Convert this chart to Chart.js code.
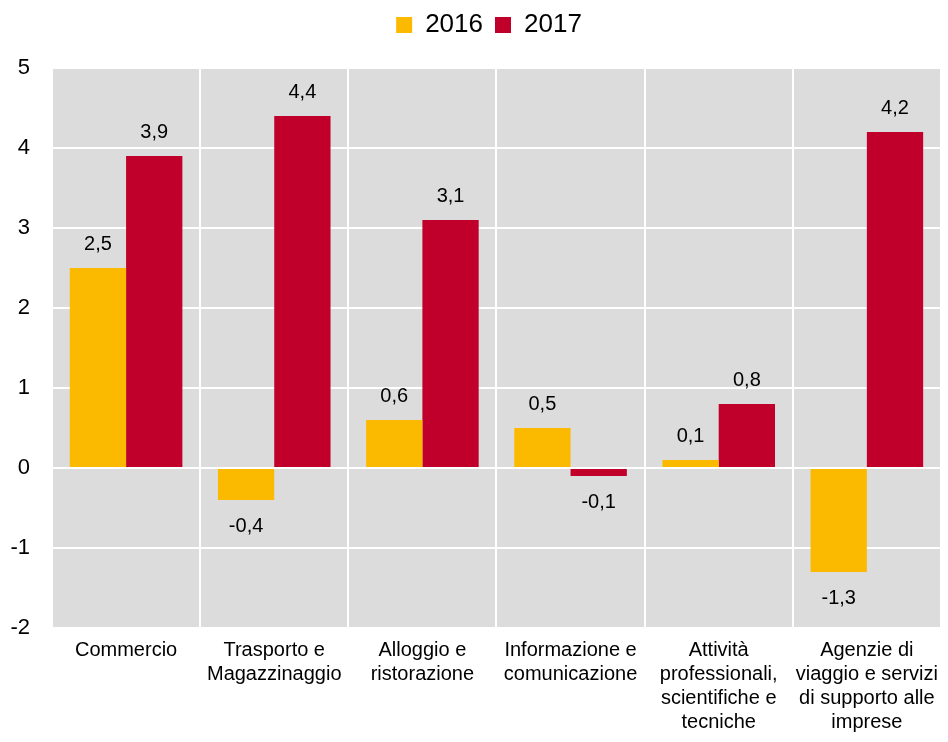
<!DOCTYPE html>
<html>
<head>
<meta charset="utf-8">
<script src="https://cdn.jsdelivr.net/npm/chart.js@4"></script>
<style>
  html, body { margin: 0; padding: 0; background: #fff; }
  #wrap { width: 948px; height: 742px; }
</style>
</head>
<body>
<div id="wrap"><canvas id="chart"></canvas></div>
<script>
const categories = [
    "Commercio",
    ["Trasporto e", "Magazzinaggio"],
    ["Alloggio e", "ristorazione"],
    ["Informazione e", "comunicazione"],
    ["Attività", "professionali,", "scientifiche e", "tecniche"],
    ["Agenzie di", "viaggio e servizi", "di supporto alle", "imprese"]
]
const values_2016 = [2.5, -0.4, 0.6, 0.5, 0.1, -1.3]
const values_2017 = [3.9, 4.4, 3.1, -0.1, 0.8, 4.2]
const y_ticks = [-2, -1, 0, 1, 2, 3, 4, 5]

const font_family = "'Liberation Sans Narrow', 'Arial Narrow', 'Liberation Sans', sans-serif"

// grey plot background
const bg_plugin = {
    id: "bg",
    beforeDraw(chart) {
        const { ctx, chartArea } = chart
        ctx.save()
        ctx.fillStyle = "#dcdcdc"
        ctx.fillRect(chartArea.left, chartArea.top, chartArea.right - chartArea.left, chartArea.bottom - chartArea.top)
        ctx.restore()
    }
}

// extra room under the legend, and nudge it right a bit
const legend_plugin = {
    id: "legendSpace",
    beforeInit(chart) {
        const orig = chart.legend.fit
        chart.legend.fit = function () {
            orig.bind(chart.legend)()
            this.height += 20
        }
    },
    afterLayout(chart) {
        chart.legend.left += 30
    }
}

// value labels above / below each bar
const label_plugin = {
    id: "labels",
    afterDatasetsDraw(chart) {
        const ctx = chart.ctx
        ctx.save()
        ctx.font = "20px " + font_family
        ctx.fillStyle = "#000"
        ctx.textAlign = "center"
        ctx.textBaseline = "middle"
        chart.data.datasets.forEach((ds, i) => {
            chart.getDatasetMeta(i).data.forEach((bar, j) => {
                const v = ds.data[j]
                const txt = v.toFixed(1).replace(".", ",")
                const y = v >= 0 ? bar.y - 24 : bar.y + 26
                ctx.fillText(txt, bar.x, y)
            })
        })
        ctx.restore()
    }
}

const ctx = document.getElementById("chart")

new Chart(ctx, {
    type: "bar",
    data: {
        labels: categories,
        datasets: [{
            label: "2016",
            data: values_2016,
            backgroundColor: "#fbba00"
        }, {
            label: "2017",
            data: values_2017,
            backgroundColor: "#c0002a"
        }]
    },
    options: {
        responsive: true,
        maintainAspectRatio: false,
        animation: false,
        layout: { padding: 0 },
        datasets: {
            bar: { categoryPercentage: 0.76, barPercentage: 1.0 }
        },
        plugins: {
            tooltip: { enabled: false },
            legend: {
                position: "top",
                labels: {
                    color: "#000",
                    font: { family: font_family, size: 26 },
                    boxWidth: 16,
                    boxHeight: 16,
                    padding: 12
                }
            }
        },
        scales: {
            x: {
                grid: { color: "#fff", lineWidth: 2, drawTicks: false, offset: true },
                border: { display: false },
                ticks: {
                    color: "#000",
                    font: { family: font_family, size: 20, lineHeight: 1.2 },
                    padding: 10,
                    maxRotation: 0,
                    autoSkip: false
                },
                afterFit(scale) { scale.height = 114 }
            },
            y: {
                min: -2,
                max: 5,
                afterBuildTicks(scale) { scale.ticks = y_ticks.map(v => ({ value: v })) },
                grid: { color: "#fff", lineWidth: 2, drawTicks: false },
                border: { display: false },
                ticks: {
                    color: "#000",
                    font: { family: font_family, size: 22 },
                    padding: 22
                },
                afterFit(scale) { scale.width = 52 }
            }
        }
    },
    plugins: [bg_plugin, legend_plugin, label_plugin]
});
</script>
</body>
</html>
